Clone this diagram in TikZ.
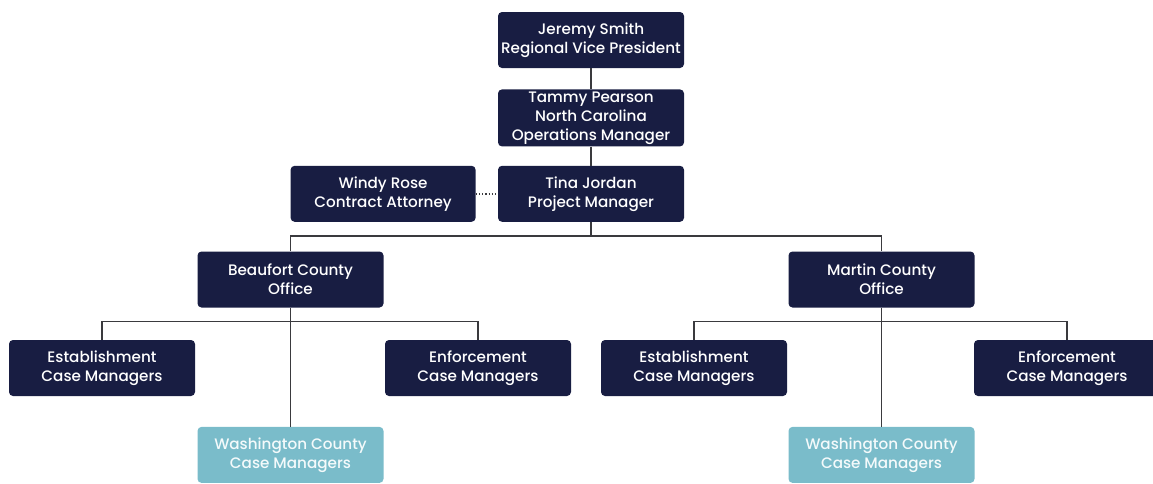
\documentclass[tikz,border=0pt]{standalone}
\usepackage{fontspec}
\setmainfont{Poppins}[UprightFont={* Medium}]
\usepackage{xcolor}
\usepackage{tikz}
\usetikzlibrary{positioning}
\definecolor{orgnavy}{RGB}{24,29,66}
\definecolor{orgteal}{RGB}{122,188,202}
\definecolor{orgline}{RGB}{58,58,62}
\tikzset{
  unit/.style={rounded corners=4pt, fill=orgnavy, text=white, align=center, minimum width=186pt, minimum height=56pt, inner sep=1pt, font=\fontsize{15.2}{19}\selectfont},
  satellite/.style={unit, fill=orgteal, text=white!92!orgteal},
  link/.style={draw=orgline, line width=1.2pt},
}

\begin{document}
\begin{tikzpicture}[x=1pt, y=1pt]
    \useasboundingbox (0,0) rectangle (1153,-483);
    \node[unit] (rvp) at (591,-40) {Jeremy Smith\\Regional Vice President};
    \node[unit, below=21pt of rvp, minimum height=57pt] (ops) {Tammy Pearson\\North Carolina\\Operations Manager};
    \node[unit, below=19pt of ops] (pm) {Tina Jordan\\Project Manager};
    \node[unit, left=22pt of pm, minimum width=185pt] (atty) {Windy Rose\\Contract Attorney};
    \node[unit] (beaufort) at (290.5,-279.5) {Beaufort County\\Office};
    \node[unit] (martin) at (881.5,-279.5) {Martin County\\Office};
    \node[unit] (estB) at (102,-368) {Establishment\\Case Managers};
    \node[unit] (enfB) at (478,-368) {Enforcement\\Case Managers};
    \node[satellite, below=119pt of beaufort] (washB) {Washington County\\Case Managers};
    \node[unit] (estM) at (694,-368) {Establishment\\Case Managers};
    \node[unit] (enfM) at (1067,-368) {Enforcement\\Case Managers};
    \node[satellite, below=119pt of martin] (washM) {Washington County\\Case Managers};
    \foreach \x/\y in {rvp/ops,ops/pm,beaufort/washB,martin/washM}{\draw[link] (\x)--(\y);}
    \draw[link, dotted, line width=1.8pt] (atty)--(pm);
    \draw[link] (pm.south) -- ++(0,-14) -| (beaufort.north);
    \draw[link] (pm.south) -- ++(0,-14) -| (martin.north);
    \draw[link] (estB.north) -- ++(0,18) -| (enfB.north);
    \draw[link] (estM.north) -- ++(0,18) -| (enfM.north);
  \end{tikzpicture}
\end{document}
